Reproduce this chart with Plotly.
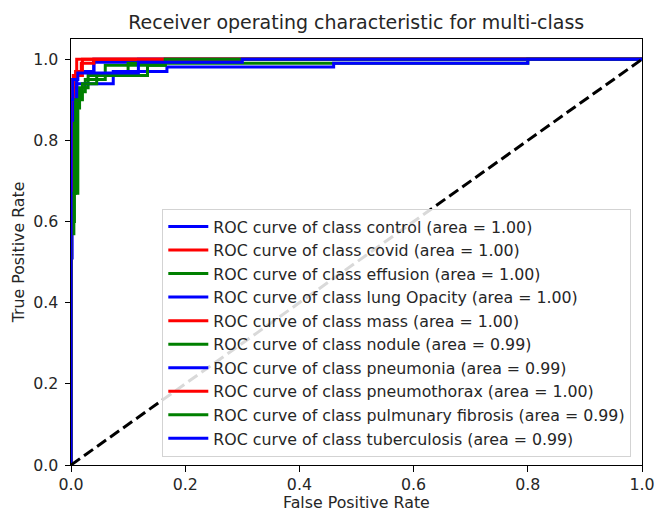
import plotly.graph_objects as go

class_names = ["control", "covid", "effusion", "lung Opacity", "mass", "nodule",
               "pneumonia", "pneumothorax", "pulmunary fibrosis", "tuberculosis"]
auc_values = [1.00, 1.00, 1.00, 1.00, 1.00, 0.99, 0.99, 1.00, 0.99, 0.99]
line_colors = ["blue", "red", "green", "blue", "red", "green", "blue", "red", "green", "blue"]

fpr_control = [0, 0, 0.002, 0.002, 0.01, 0.01, 0.04, 0.04, 1]
tpr_control = [0, 0.51, 0.51, 0.9, 0.9, 0.97, 0.97, 1.0, 1.0]
fpr_covid = [0, 0, 0.003, 0.003, 0.01, 0.01, 1]
tpr_covid = [0, 0.88, 0.88, 0.95, 0.95, 1.0, 1.0]
fpr_effusion = [0, 0, 0.005, 0.005, 0.012, 0.012, 0.025, 0.025, 0.06, 0.06, 0.165, 0.165, 1]
tpr_effusion = [0, 0.57, 0.57, 0.67, 0.67, 0.92, 0.92, 0.95, 0.95, 0.985, 0.985, 1.0, 1.0]
fpr_lung = [0, 0, 0.005, 0.005, 0.01, 0.01, 0.04, 0.04, 0.118, 0.118, 1]
tpr_lung = [0, 0.75, 0.75, 0.93, 0.93, 0.97, 0.97, 0.993, 0.993, 1.0, 1.0]
fpr_mass = [0, 0, 0.004, 0.004, 0.008, 0.008, 0.018, 0.018, 0.04, 0.04, 1]
tpr_mass = [0, 0.92, 0.92, 0.95, 0.95, 0.97, 0.97, 0.99, 0.99, 1.0, 1.0]
fpr_nodule = [0, 0, 0.006, 0.006, 0.015, 0.015, 0.03, 0.03, 0.1, 0.1, 0.8, 0.8, 1]
tpr_nodule = [0, 0.6, 0.6, 0.88, 0.88, 0.93, 0.93, 0.96, 0.96, 0.99, 0.99, 1.0, 1.0]
fpr_pneumonia = [0, 0, 0.005, 0.005, 0.01, 0.01, 0.074, 0.074, 0.168, 0.168, 0.46, 0.46, 0.80, 0.80, 1]
tpr_pneumonia = [0, 0.85, 0.85, 0.9, 0.9, 0.94, 0.94, 0.97, 0.97, 0.981, 0.981, 0.99, 0.99, 1.0, 1.0]
fpr_pneumothorax = [0, 0, 0.004, 0.004, 0.02, 0.02, 1]
tpr_pneumothorax = [0, 0.9, 0.9, 0.96, 0.96, 1.0, 1.0]
fpr_fibrosis = [0, 0, 0.008, 0.008, 0.02, 0.02, 0.045, 0.045, 0.134, 0.134, 0.165, 0.165, 1]
tpr_fibrosis = [0, 0.67, 0.67, 0.9, 0.9, 0.94, 0.94, 0.96, 0.96, 0.985, 0.985, 1.0, 1.0]
fpr_tb = [0, 0, 0.003, 0.003, 0.012, 0.012, 0.118, 0.118, 0.3, 0.3, 1]
tpr_tb = [0, 0.9, 0.9, 0.95, 0.95, 0.966, 0.966, 0.993, 0.993, 1.0, 1.0]

fprs = [fpr_control, fpr_covid, fpr_effusion, fpr_lung, fpr_mass, fpr_nodule,
        fpr_pneumonia, fpr_pneumothorax, fpr_fibrosis, fpr_tb]
tprs = [tpr_control, tpr_covid, tpr_effusion, tpr_lung, tpr_mass, tpr_nodule,
        tpr_pneumonia, tpr_pneumothorax, tpr_fibrosis, tpr_tb]

diag_x = [0, 1]
diag_y = [0, 1]
tick_vals = [0.0, 0.2, 0.4, 0.6, 0.8, 1.0]

FONT = "DejaVu Sans"
FS = 15.8
TEXT = "#262626"

fig = go.Figure()
for name, auc, col, fx, ty in zip(class_names, auc_values, line_colors, fprs, tprs):
    fig.add_trace(go.Scatter(
        x=fx, y=ty, mode="lines",
        line=dict(color=col, width=3),
        name=f"ROC curve of class {name} (area = {auc:.2f})",
    ))
fig.add_trace(go.Scatter(
    x=diag_x, y=diag_y, mode="lines", showlegend=False,
    line=dict(color="black", width=3, dash="11px,5px"),
))

axis_common = dict(
    showline=True, linecolor="black", linewidth=1, mirror=True,
    ticks="outside", ticklen=5.5, tickcolor="black", tickwidth=1,
    showgrid=False, zeroline=False, tickvals=tick_vals, tickformat=".1f",
    tickfont=dict(family=FONT, size=FS, color=TEXT), automargin=False,
)

fig.update_layout(
    width=655, height=511,
    margin=dict(l=70.7, r=13.3, t=39, b=46),
    paper_bgcolor="white", plot_bgcolor="white",
    font=dict(family=FONT, size=FS, color=TEXT),
    title=dict(text="Receiver operating characteristic for multi-class",
               x=0.5438, xanchor="center", y=1 - 22 / 511, yanchor="middle",
               font=dict(family=FONT, size=19, color=TEXT)),
    xaxis=dict(range=[0, 1], ticklabelstandoff=0, **axis_common),
    yaxis=dict(range=[0, 1.05], ticklabelstandoff=3,
               title=dict(text="True Positive Rate", standoff=4,
                          font=dict(family=FONT, size=FS, color=TEXT)), **axis_common),
    legend=dict(x=(162 - 70.7) / 571, xanchor="left", y=(465 - 456.7) / 426, yanchor="bottom",
                bgcolor="rgba(255,255,255,0.85)", bordercolor="#d3d3d3", borderwidth=1,
                font=dict(family=FONT, size=FS, color=TEXT),
                tracegroupgap=0, itemwidth=40),
    annotations=[dict(text="False Positive Rate", xref="paper", yref="paper",
                      x=0.5, xanchor="center", y=(465 - 502) / 426, yanchor="middle",
                      showarrow=False, borderpad=0,
                      font=dict(family=FONT, size=FS, color=TEXT))],
)

fig.write_html("out.html", config={"displayModeBar": False},
               post_script="document.body.style.margin='0';document.body.style.overflow='hidden';")
